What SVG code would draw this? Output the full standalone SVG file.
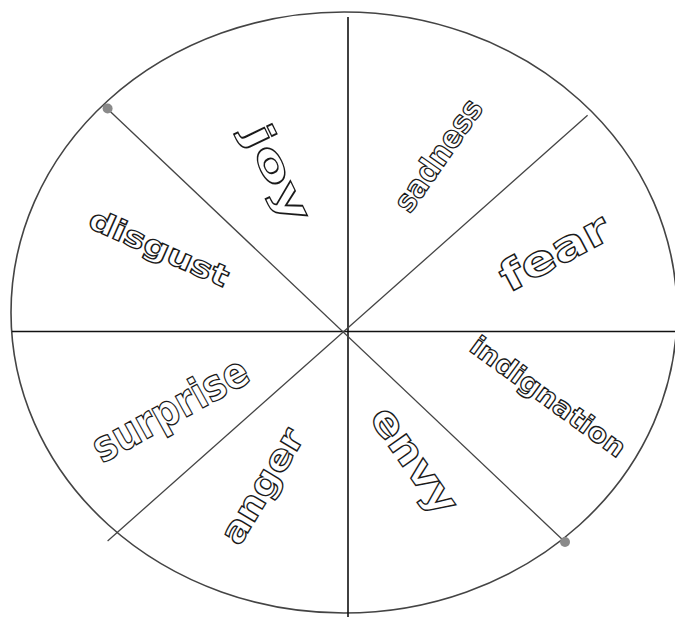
<svg xmlns="http://www.w3.org/2000/svg" width="675" height="617" viewBox="0 0 675 617">
<style>
.lbl{font-family:"DejaVu Sans","Liberation Sans",Arial,sans-serif;font-weight:bold;fill:#fff;stroke:#1a1a1a;stroke-width:1.3;text-anchor:middle}
.ax{stroke:#111;stroke-width:1.6;fill:none}
.dg{stroke:#444;stroke-width:1.3;fill:none}
.dot{fill:#8a8a8a}
</style>
<rect width="675" height="617" fill="#fff"/>
<g id="wheel">
<ellipse cx="344" cy="312.5" rx="333" ry="300.5" fill="none" stroke="#444" stroke-width="1.6"/>
</g>
<g id="connectors">
<line class="ax" x1="348" y1="17" x2="348" y2="617"/>
<line class="ax" x1="12" y1="331.5" x2="675" y2="331.5"/>
<line class="dg" x1="107.6" y1="109" x2="565" y2="542"/>
<line class="dg" x1="587.6" y1="115.3" x2="107.6" y2="541"/>
<circle class="dot" cx="107.6" cy="108.5" r="5"/>
<circle class="dot" cx="565" cy="542" r="5"/>
</g>
<g id="joy"><text class="lbl" transform="translate(278,173) rotate(64)" y="14" font-size="40" textLength="104" lengthAdjust="spacingAndGlyphs">joy</text></g>
<g id="sadness"><text class="lbl" transform="translate(438,155) rotate(-55)" y="11" font-size="31" textLength="130" lengthAdjust="spacingAndGlyphs">sadness</text></g>
<g id="fear"><text class="lbl" transform="translate(554,252) rotate(-28)" y="15" font-size="42" textLength="118" lengthAdjust="spacingAndGlyphs">fear</text></g>
<g id="disgust"><text class="lbl" transform="translate(159,248) rotate(24)" y="10" font-size="29" textLength="150" lengthAdjust="spacingAndGlyphs">disgust</text></g>
<g id="surprise"><text class="lbl" transform="translate(170,409) rotate(-29)" y="15" font-size="43" textLength="172" lengthAdjust="spacingAndGlyphs">surprise</text></g>
<g id="anger"><text class="lbl" transform="translate(262,486) rotate(-59)" y="12" font-size="35" textLength="128" lengthAdjust="spacingAndGlyphs">anger</text></g>
<g id="indignation"><text class="lbl" transform="translate(548,397) rotate(36)" y="9" font-size="27" textLength="185" lengthAdjust="spacingAndGlyphs">indignation</text></g>
<g id="envy"><text class="lbl" transform="translate(415,460) rotate(55)" y="14" font-size="40" textLength="122" lengthAdjust="spacingAndGlyphs">envy</text></g>
</svg>
